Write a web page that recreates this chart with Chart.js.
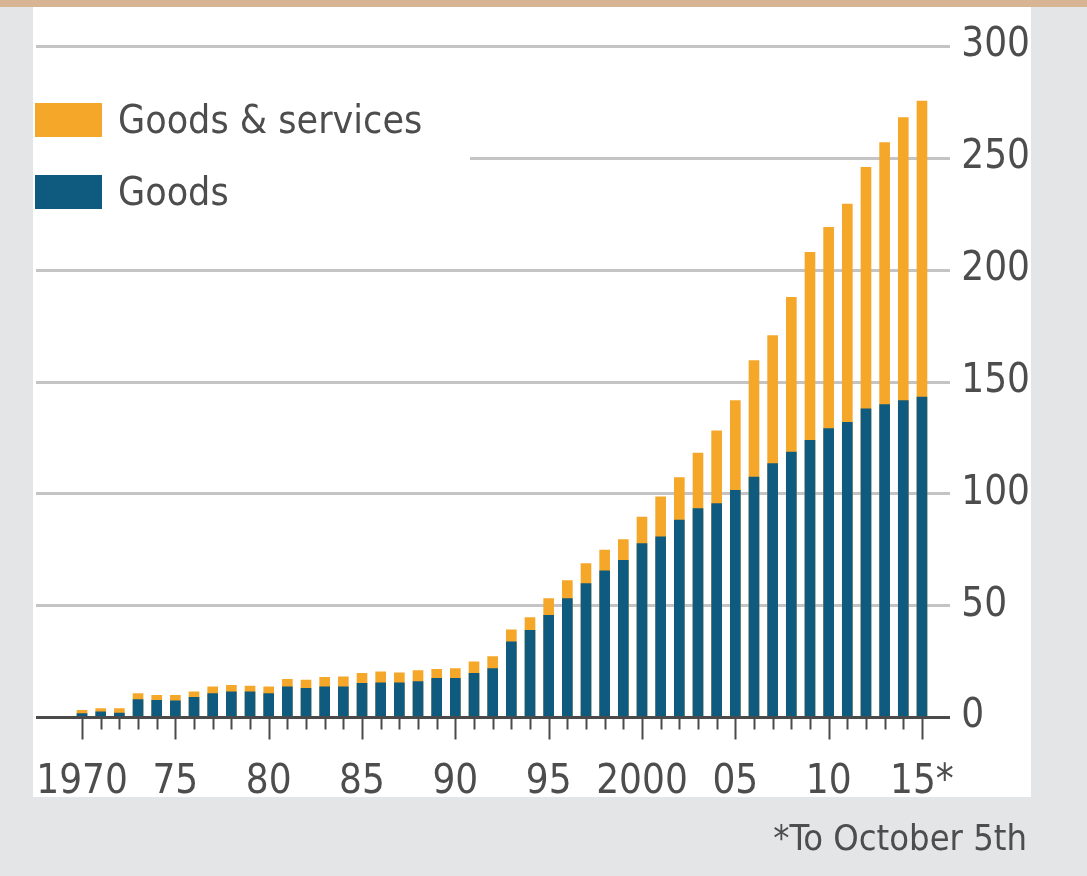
<!DOCTYPE html>
<html>
<head>
<meta charset="utf-8">
<title>Goods and services</title>
<script src="https://cdn.jsdelivr.net/npm/chart.js@4"></script>
<style>
    html, body { margin: 0; padding: 0; overflow: hidden; }
    #wrap { position: relative; width: 1087px; height: 876px; }
    .swatch { position: absolute; left: 35px; width: 67px; height: 34px; }
    .label, .note {
        position: absolute;
        font-family: 'DejaVu Sans Condensed', 'DejaVu Sans', sans-serif;
        color: #4d4d4d;
        white-space: nowrap;
    }
    .label { left: 118px; font-size: 39px; line-height: 44px; }
    .note { right: 60px; font-size: 36px; line-height: 40px; top: 818px; }
</style>
</head>
<body>
<div id="wrap">
    <canvas id="chart"></canvas>
    <div class="swatch" style="top:103px; background:#f5a729;"></div>
    <div class="label" style="top:98px;">Goods &amp; services</div>
    <div class="swatch" style="top:175px; background:#0f5b80;"></div>
    <div class="label" style="top:170px;">Goods</div>
    <div class="note">*To October 5th</div>
</div>
<script>
// Years on the x axis
const years = [
    1970, 1971, 1972, 1973, 1974, 1975, 1976, 1977, 1978, 1979,
    1980, 1981, 1982, 1983, 1984, 1985, 1986, 1987, 1988, 1989,
    1990, 1991, 1992, 1993, 1994, 1995, 1996, 1997, 1998, 1999,
    2000, 2001, 2002, 2003, 2004, 2005, 2006, 2007, 2008, 2009,
    2010, 2011, 2012, 2013, 2014, 2015
];

// Goods & services (total)
const goodsAndServices = [
    3, 3.8, 3.8, 10.5, 9.7, 9.7, 11.3, 13.5, 14.2, 13.8,
    13.5, 16.8, 16.5, 17.7, 18, 19.5, 20.2, 19.8, 20.7, 21.3,
    21.7, 24.7, 27, 39, 44.5, 53, 61, 68.6, 74.6, 79.3,
    89.4, 98.4, 107, 118, 128, 141.5, 159.4, 170.5, 187.6, 207.7,
    218.9, 229.3, 245.7, 256.8, 268, 275.4
];

// Goods only
const goods = [
    1.5, 2.3, 1.8, 7.8, 7.5, 7.2, 8.8, 10.5, 11.3, 11.3,
    10.5, 13.5, 12.8, 13.5, 13.5, 15, 15.3, 15.3, 15.8, 17.3,
    17.3, 19.5, 21.7, 33.6, 38.8, 45.5, 53, 59.7, 65.3, 70,
    77.5, 80.5, 88, 93.2, 95.4, 101.3, 107.3, 113.3, 118.4, 123.7,
    128.9, 131.8, 137.8, 139.7, 141.5, 143
];

// Labelled years and their text
const labelledYears = [1970, 1975, 1980, 1985, 1990, 1995, 2000, 2005, 2010, 2015];
const yearLabels = ['1970', '75', '80', '85', '90', '95', '2000', '05', '10', '15*'];

// y ticks
const yTicks = [0, 50, 100, 150, 200, 250, 300];

const ORANGE = '#f5a729';
const BLUE = '#0f5b80';
const TEXT = '#4d4d4d';
const FONT = { family: "'DejaVu Sans Condensed', 'DejaVu Sans', sans-serif", size: 40 };

// Backgrounds, grid lines, zero line and year ticks
const frame = {
    id: 'frame',
    beforeDraw(chart) {
        const ctx = chart.ctx;
        ctx.save();
        ctx.fillStyle = '#e4e5e7';
        ctx.fillRect(0, 0, chart.width, chart.height);
        ctx.fillStyle = '#d7b594';
        ctx.fillRect(0, 0, chart.width, 7);
        ctx.fillStyle = '#ffffff';
        ctx.fillRect(33, 7, 998, 790);
        ctx.restore();
    },
    beforeDatasetsDraw(chart) {
        const ctx = chart.ctx;
        const y = chart.scales.y;
        ctx.save();
        ctx.strokeStyle = '#c4c4c4';
        ctx.lineWidth = 3;
        yTicks.forEach(v => {
            if (v === 0) return;
            const py = Math.round(y.getPixelForValue(v)) + 0.5;
            // the 250 line stops short of the legend
            const x0 = v === 250 ? 470 : 36;
            ctx.beginPath();
            ctx.moveTo(x0, py);
            ctx.lineTo(950, py);
            ctx.stroke();
        });
        ctx.restore();
    },
    afterDatasetsDraw(chart) {
        const ctx = chart.ctx;
        const x = chart.scales.x;
        const y0 = Math.round(chart.scales.y.getPixelForValue(0)) + 0.5;
        ctx.save();
        ctx.strokeStyle = '#4a4a4a';
        ctx.lineWidth = 2;
        years.forEach((yr, i) => {
            const px = Math.round(x.getPixelForValue(i)) + 0.5;
            const len = labelledYears.includes(yr) ? 22 : 12;
            ctx.beginPath();
            ctx.moveTo(px, y0);
            ctx.lineTo(px, y0 + len);
            ctx.stroke();
        });
        ctx.lineWidth = 3;
        ctx.beginPath();
        ctx.moveTo(36, y0);
        ctx.lineTo(950, y0);
        ctx.stroke();
        ctx.restore();
    }
};

const ctx = document.getElementById('chart').getContext('2d');
new Chart(ctx, {
    type: 'bar',
    data: {
        labels: years,
        datasets: [
            {
                label: 'Goods',
                data: goods,
                backgroundColor: BLUE,
                grouped: false,
                barThickness: 10
            },
            {
                label: 'Goods & services',
                data: goodsAndServices,
                backgroundColor: ORANGE,
                grouped: false,
                barThickness: 10
            }
        ]
    },
    options: {
        responsive: true,
        maintainAspectRatio: false,
        animation: false,
        layout: {
            padding: { left: 72.7, top: 35, right: 0, bottom: 0 }
        },
        plugins: {
            legend: { display: false },
            tooltip: { enabled: false }
        },
        scales: {
            x: {
                grid: { display: false },
                border: { display: false },
                ticks: {
                    autoSkip: false,
                    maxRotation: 0,
                    minRotation: 0,
                    padding: 34,
                    font: FONT,
                    color: TEXT,
                    callback: (value, index) => {
                        const k = labelledYears.indexOf(years[index]);
                        return k >= 0 ? yearLabels[k] : '';
                    }
                },
                afterFit(scale) { scale.height = 159; }
            },
            y: {
                position: 'right',
                min: 0,
                max: 300,
                grid: { display: false },
                border: { display: false },
                ticks: {
                    stepSize: 50,
                    padding: 22,
                    font: FONT,
                    color: TEXT
                },
                afterFit(scale) { scale.width = 155.7; }
            }
        }
    },
    plugins: [frame]
});
</script>
</body>
</html>
